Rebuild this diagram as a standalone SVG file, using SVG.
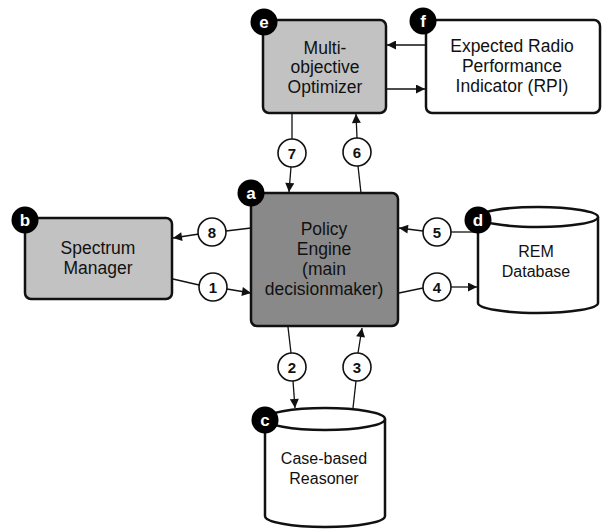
<svg xmlns="http://www.w3.org/2000/svg" width="602" height="530" viewBox="0 0 602 530">
<style>
.box{stroke:#111;stroke-width:2.5}
.light{fill:#c2c2c2}
.dark{fill:#898989}
.white{fill:#fff}
.t{font-family:"Liberation Sans",Arial,sans-serif;font-size:17.5px;fill:#111;text-anchor:middle}
.ts{font-family:"Liberation Sans",Arial,sans-serif;font-size:16px;fill:#111;text-anchor:middle}
.badge{fill:#000}
.bt{font-family:"Liberation Sans",Arial,sans-serif;font-size:17px;font-weight:bold;fill:#fff;text-anchor:middle}
.c{stroke:#111;stroke-width:1.3;fill:none}
.num{fill:#fff;stroke:#111;stroke-width:1.6}
.nt{font-family:"Liberation Sans",Arial,sans-serif;font-size:15px;font-weight:bold;fill:#111;text-anchor:middle}
</style>
<defs>
<marker id="ah" viewBox="0 0 10 10" refX="10" refY="5" markerWidth="10" markerHeight="9" markerUnits="userSpaceOnUse" orient="auto">
<path d="M0,0 L10,5 L0,10 Z" fill="#111"/>
</marker>
</defs>
<rect width="602" height="530" fill="#fff"/>
<g id="connectors">
<line class="c" x1="426" y1="45" x2="387" y2="45" marker-end="url(#ah)"/>
<line class="c" x1="386" y1="89" x2="425" y2="89" marker-end="url(#ah)"/>
<line class="c" x1="292" y1="113" x2="292" y2="139"/>
<line class="c" x1="291" y1="167" x2="289" y2="192" marker-end="url(#ah)"/>
<line class="c" x1="361" y1="193" x2="358" y2="166"/>
<line class="c" x1="357" y1="138" x2="356" y2="114" marker-end="url(#ah)"/>
<line class="c" x1="251" y1="228" x2="226" y2="231"/>
<line class="c" x1="199" y1="234" x2="173" y2="238" marker-end="url(#ah)"/>
<line class="c" x1="173" y1="279" x2="199" y2="285"/>
<line class="c" x1="227" y1="289" x2="251" y2="293" marker-end="url(#ah)"/>
<line class="c" x1="478" y1="232" x2="451" y2="232"/>
<line class="c" x1="423" y1="231" x2="399" y2="228" marker-end="url(#ah)"/>
<line class="c" x1="399" y1="293" x2="423" y2="288"/>
<line class="c" x1="451" y1="287" x2="477" y2="287" marker-end="url(#ah)"/>
<line class="c" x1="288" y1="327" x2="291" y2="353"/>
<line class="c" x1="293" y1="381" x2="295" y2="408" marker-end="url(#ah)"/>
<line class="c" x1="353" y1="408" x2="356" y2="381"/>
<line class="c" x1="358" y1="353" x2="362" y2="328" marker-end="url(#ah)"/>
<circle class="num" cx="292" cy="153" r="14"/><text class="nt" x="292" y="158.5">7</text>
<circle class="num" cx="357" cy="152" r="14"/><text class="nt" x="357" y="157.5">6</text>
<circle class="num" cx="212" cy="232" r="14"/><text class="nt" x="212" y="237.5">8</text>
<circle class="num" cx="213" cy="287" r="14"/><text class="nt" x="213" y="292.5">1</text>
<circle class="num" cx="437" cy="232" r="14"/><text class="nt" x="437" y="237.5">5</text>
<circle class="num" cx="437" cy="287" r="14"/><text class="nt" x="437" y="292.5">4</text>
<circle class="num" cx="292" cy="367" r="14"/><text class="nt" x="292" y="372.5">2</text>
<circle class="num" cx="357" cy="367" r="14"/><text class="nt" x="357" y="372.5">3</text>
</g>
<g id="node-e">
<rect class="box light" x="263" y="20" width="123" height="93" rx="6"/>
<text class="t" x="325" y="54">Multi-</text>
<text class="t" x="325" y="73">objective</text>
<text class="t" x="325" y="93">Optimizer</text>
<circle class="badge" cx="264" cy="22" r="13.5"/><text class="bt" x="264" y="28">e</text>
</g>
<g id="node-f">
<rect class="box white" x="426" y="20" width="174" height="93" rx="6"/>
<text class="t" x="512" y="52">Expected Radio</text>
<text class="t" x="512" y="72">Performance</text>
<text class="t" x="512" y="92">Indicator (RPI)</text>
<circle class="badge" cx="423" cy="21" r="13.5"/><text class="bt" x="423" y="27">f</text>
</g>
<g id="node-a">
<rect class="box dark" x="251" y="193" width="147" height="133" rx="6"/>
<text class="t" x="324" y="235">Policy</text>
<text class="t" x="324" y="255">Engine</text>
<text class="t" x="324" y="275">(main</text>
<text class="t" x="324" y="295">decisionmaker)</text>
<circle class="badge" cx="251" cy="193" r="13.5"/><text class="bt" x="251" y="199">a</text>
</g>
<g id="node-b">
<rect class="box light" x="25" y="218" width="147" height="81" rx="6"/>
<text class="t" x="98" y="254">Spectrum</text>
<text class="t" x="98" y="274">Manager</text>
<circle class="badge" cx="25" cy="220" r="13.5"/><text class="bt" x="25" y="226">b</text>
</g>
<g id="node-d">
<path class="box white" d="M478,217 L478,303 A60,10 0 0 0 598,303 L598,217"/>
<ellipse class="box white" cx="538" cy="217" rx="60" ry="10"/>
<text class="ts" x="536" y="257">REM</text>
<text class="ts" x="536" y="277">Database</text>
<circle class="badge" cx="478" cy="220" r="13.5"/><text class="bt" x="478" y="226">d</text>
</g>
<g id="node-c">
<path class="box white" d="M265,419 L265,516 A60,11 0 0 0 385,516 L385,419"/>
<ellipse class="box white" cx="325" cy="419" rx="60" ry="11"/>
<text class="ts" x="324" y="464">Case-based</text>
<text class="ts" x="324" y="484">Reasoner</text>
<circle class="badge" cx="265" cy="420" r="13.5"/><text class="bt" x="265" y="426">c</text>
</g>
</svg>
